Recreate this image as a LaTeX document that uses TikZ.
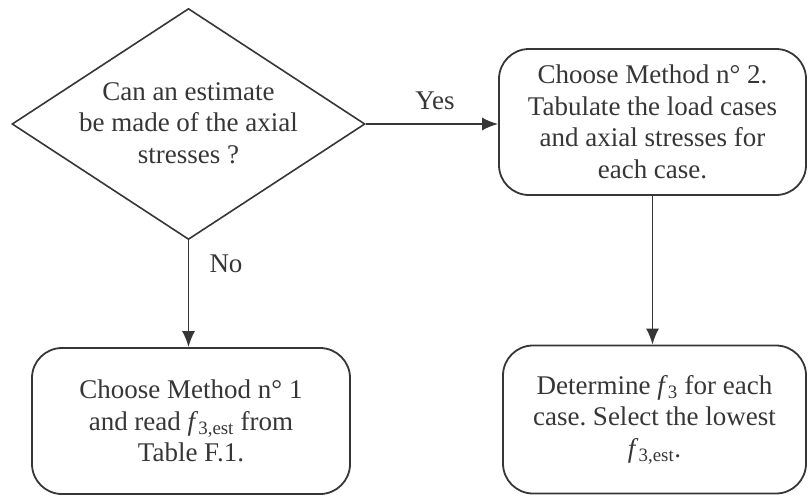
\documentclass[tikz,border=0pt]{standalone}
\usepackage{fontspec}
\setmainfont{Liberation Serif}
\usetikzlibrary{shapes.geometric,arrows.meta}
\definecolor{ink}{HTML}{363636}
\newcommand{\fsub}[1]{\textit{f}\textsubscript{#1}}
\frenchspacing
\begin{document}
\begin{tikzpicture}[x=1pt,y=-1pt,
  every node/.style={text=ink, font=\fontsize{27}{31.5}\selectfont},
  stepbox/.style={draw=ink, line width=1.8pt, rounded corners=30pt, align=center, inner sep=0pt},
  decision/.style={draw=ink, line width=1.6pt, diamond, aspect=1.53, inner sep=0pt, align=center},
  link/.style={draw=ink, line width=1.7pt, -{Latex[length=16pt,width=13pt]}},
  lbl/.style={inner sep=0pt}]
\useasboundingbox (0,0) rectangle (808,496);
\node[decision, minimum width=353pt, minimum height=231pt] (q) at (188.5,124) {};
\node[lbl, align=center] (qt) at (188.5,123) {Can an estimate\\be made of the axial\\stresses ?};
\node[stepbox, minimum width=307pt, minimum height=146pt] (m2) at (652.5,122) {Choose Method n° 2.\\Tabulate the load cases\\and axial stresses for\\each case.};
\node[stepbox, minimum width=318pt, minimum height=146pt] (m1) at (191,421) {Choose Method n° 1\\and read \fsub{3,est} from\\Table F.1.};
\node[stepbox, minimum width=303pt, minimum height=148pt] (d3) at (654.5,419.5) {Determine \fsub{3} for each\\case. Select the lowest\\\fsub{3,est}.};
\draw[link] (q.east) -- (q.east -| m2.west);
\draw[link] (q.south) -- (q.south |- m1.north);
\draw[link] (m2.south) -- (m2.south |- d3.north);
\node[lbl] (yes) at (435,101) {Yes};
\node[lbl] (no) at (226,264) {No};
\end{tikzpicture}
\end{document}
